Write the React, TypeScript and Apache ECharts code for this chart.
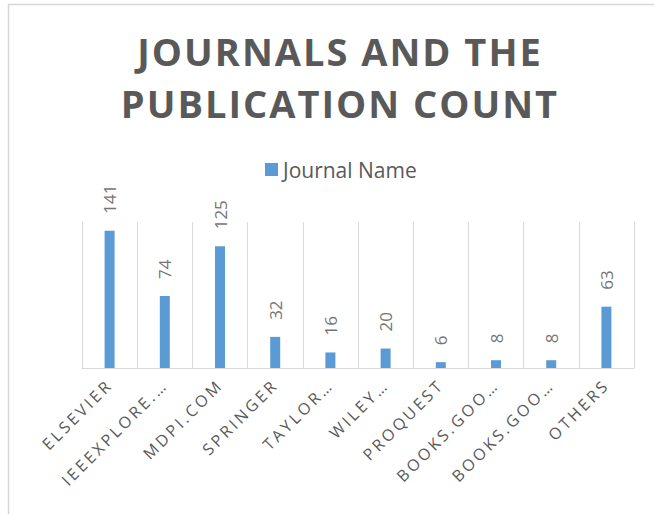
import React, { useEffect, useRef } from "react";
import * as echarts from "echarts";

const categories = [
  "ELSEVIER",
  "IEEEXPLORE.…",
  "MDPI.COM",
  "SPRINGER",
  "TAYLOR…",
  "WILEY…",
  "PROQUEST",
  "BOOKS.GOO…",
  "BOOKS.GOO…",
  "OTHERS",
];
const counts = [141, 74, 125, 32, 16, 20, 6, 8, 8, 63];
const seriesName = "Journal Name";
const titleText = "JOURNALS AND THE\nPUBLICATION COUNT";

export default function App() {
  const ref = useRef<HTMLDivElement>(null);
  useEffect(() => {
    if (!ref.current) return;
    const chart = echarts.init(ref.current, null, { renderer: "svg" });
    const option: any = {
      animation: false,
      backgroundColor: "#ffffff",
      title: {
        text: titleText,
        left: 335,
        top: 20,
        textAlign: "center",
        textStyle: {
          fontFamily: "Open Sans",
          fontWeight: "bold",
          fontSize: 38,
          lineHeight: 52,
          color: "#595959",
        },
      },
      legend: {
        data: [seriesName],
        left: 265,
        top: 159,
        padding: 0,
        itemWidth: 13,
        itemHeight: 13,
        icon: "rect",
        textStyle: { fontFamily: "Open Sans", fontSize: 21, color: "#595959" },
      },
      grid: { left: 82, right: 20, top: 222, bottom: 146, containLabel: false },
      xAxis: {
        type: "category",
        data: categories,
        axisLine: { show: true, lineStyle: { color: "#d9d9d9", width: 1 } },
        axisTick: { show: false },
        splitLine: { show: true, lineStyle: { color: "#d9d9d9", width: 1 } },
        axisLabel: {
          interval: 0,
          rotate: 45,
          margin: 14,
          fontFamily: "Open Sans",
          fontSize: 16,
          color: "#595959",
        },
      },
      yAxis: {
        type: "value",
        min: 0,
        max: 150,
        show: false,
        splitLine: { show: false },
      },
      series: [
        {
          name: seriesName,
          type: "bar",
          data: counts,
          barWidth: 10,
          itemStyle: { color: "#5b9bd5" },
          label: {
            show: true,
            position: "top",
            distance: 17,
            rotate: 90,
            align: "left",
            verticalAlign: "middle",
            fontFamily: "Open Sans",
            fontSize: 17,
            color: "#767676",
          },
        },
      ],
      graphic: [
        {
          type: "rect",
          shape: { x: 8.5, y: 4.5, width: 700, height: 600 },
          style: { fill: "none", stroke: "#d6d6d6", lineWidth: 1.5 },
          silent: true,
        },
      ],
    };
    chart.setOption(option);
    const labelSet = new Set(categories);
    const applySpacing = () => {
      if (!ref.current) return;
      ref.current.querySelectorAll("text").forEach((t) => {
        const c = t.textContent || "";
        if (labelSet.has(c)) t.setAttribute("letter-spacing", "3");
        else if (c === "JOURNALS AND THE" || c === "PUBLICATION COUNT")
          t.setAttribute("letter-spacing", "2");
      });
    };
    chart.on("finished", applySpacing);
    applySpacing();
    const timer = setTimeout(applySpacing, 50);
    return () => {
      clearTimeout(timer);
      chart.dispose();
    };
  }, []);
  return (
    <div
      ref={ref}
      style={{ position: "absolute", left: 0, top: 0, width: 654, height: 514 }}
    />
  );
}
